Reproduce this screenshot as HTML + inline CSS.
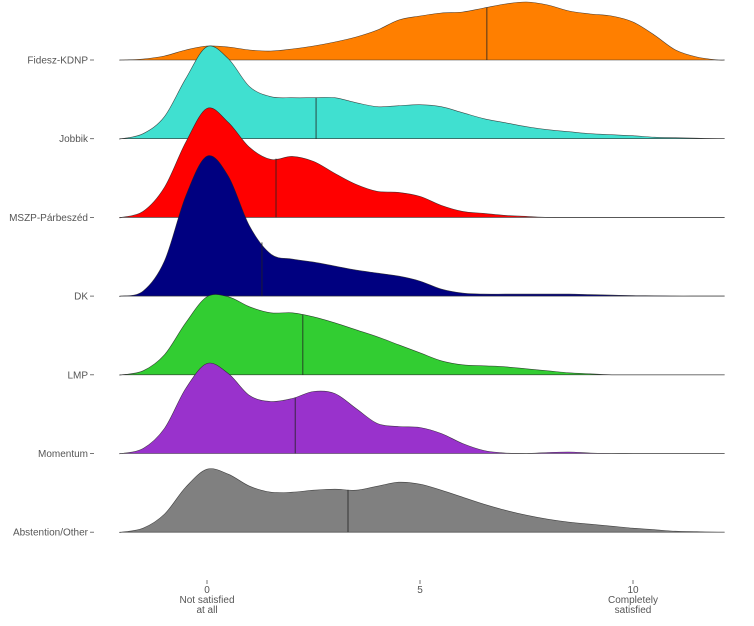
<!DOCTYPE html>
<html><head><meta charset="utf-8"><style>
body{margin:0;background:#fff;}
svg text{font-family:"Liberation Sans",sans-serif;font-size:10px;fill:#555;}
</style></head><body>
<svg id="chart" width="754" height="621" xmlns="http://www.w3.org/2000/svg"></svg>
<script>
const parties=["Fidesz-KDNP","Jobbik","MSZP-Párbeszéd","DK","LMP","Momentum","Abstention/Other"];
const colors=["#ff7f00","#40e0d0","#ff0000","#000080","#32cd32","#9932cc","#808080"];
const xGrid=[-2,-1.5,-1,-0.5,0,0.5,1,1.5,2,2.5,3,3.5,4,4.5,5,5.5,6,6.5,7,7.5,8,8.5,9,9.5,10,10.5,11,11.5,12];
const fideszDensity=[0,1,4,10,14,13,10,9,11,14,18,23,30,40,44,47,48,52,56,58,55,49,46,44,38,25,10,3,0];
const jobbikDensity=[0,5,22,60,92,80,52,42,41,41,41,36,32,33,34,32,26,20,16,12,9,7,5,4,3,1.5,1,0.5,0];
const mszpDensity=[0,6,30,75,109,95,70,58,61,56,44,33,26,25,21,12,6,4,2,1,0,0,0,0,0,0,0,0,0];
const dkDensity=[0,5,35,100,140,120,70,42,37,34,30,26,23,20,15,7,3,2,2,2,2,2,1.5,1,0.5,0.3,0,0,0];
const lmpDensity=[0,4,20,52,78,78,68,62,62,58,52,45,38,30,22,14,10,9,8,6,4,2,1,0,0,0,0,0,0];
const momentumDensity=[0,5,25,65,90,80,58,52,55,62,60,45,30,27,26,20,10,3,0.5,0,1,1.5,0.5,0,0,0,0,0,0];
const abstentionDensity=[0,4,18,45,63,58,46,40,40,42,43,42,46,50,48,42,35,28,22,17,13,10,8,6,4,2.5,1,0.5,0];
const densities=[fideszDensity,jobbikDensity,mszpDensity,dkDensity,lmpDensity,momentumDensity,abstentionDensity];
const medians=[6.57,2.56,1.62,1.29,2.25,2.07,3.31];
const xTicks=[0,5,10];
const xTickLabels=["0\nNot satisfied\nat all","5","10\nCompletely\nsatisfied"];

const svg=document.getElementById('chart');
const NS="http://www.w3.org/2000/svg";
const xs=v=>207+v*42.6;
const base=i=>60+i*78.7;
function mk(t,a,p){const e=document.createElementNS(NS,t);for(const k in a)e.setAttribute(k,a[k]);(p||svg).appendChild(e);return e;}
function pathFor(pts){
  let d=`M${pts[0][0]},${pts[0][1]}`;
  for(let i=0;i<pts.length-1;i++){
    const p0=pts[Math.max(0,i-1)],p1=pts[i],p2=pts[i+1],p3=pts[Math.min(pts.length-1,i+2)];
    const c1=[p1[0]+(p2[0]-p0[0])/6,p1[1]+(p2[1]-p0[1])/6];
    const c2=[p2[0]-(p3[0]-p1[0])/6,p2[1]-(p3[1]-p1[1])/6];
    d+=` C${c1[0]},${c1[1]} ${c2[0]},${c2[1]} ${p2[0]},${p2[1]}`;
  }
  return d;
}
function interp(arr,v){
  const t=(v-xGrid[0])/0.5;const i=Math.floor(t),f=t-i;
  return arr[i]*(1-f)+arr[Math.min(i+1,arr.length-1)]*f;
}
parties.forEach((p,i)=>{
  const y=base(i);
  const lab=mk('text',{x:88,y:y+3.5,'text-anchor':'end'});
  lab.textContent=p;
  
  
  const tk=mk('line',{x1:90,x2:94,y1:y,y2:y,stroke:'#555','stroke-width':0.8});
  
  
});
parties.forEach((p,i)=>{
  const b=base(i);
  const pts=[[xs(-2.05),b]].concat(xGrid.map((v,j)=>[xs(v),b-densities[i][j]])).concat([[xs(12.15),b]]);
  const g=mk('g',{});
  
  
  const d=pathFor(pts);
  const area=mk('path',{d:d+` Z`,fill:colors[i],stroke:'none'},g);
  
  
  const ln=mk('path',{d:d,fill:'none',stroke:'#222','stroke-width':0.6,'stroke-opacity':0.8},g);
  
  
  const bl=mk('line',{x1:xs(-2.05),x2:xs(12.15),y1:b,y2:b,stroke:'#333','stroke-width':0.6},g);
  
  
  const m=medians[i];
  const ml=mk('line',{x1:xs(m),x2:xs(m),y1:b,y2:b-interp(densities[i],m),stroke:'#222','stroke-width':0.8},g);
  
  
});
xTicks.forEach((t,i)=>{
  const x=xs(t);
  const tk=mk('line',{x1:x,x2:x,y1:580,y2:584,stroke:'#555','stroke-width':0.8});
  
  
  const tx=mk('text',{x:x,y:593,'text-anchor':'middle'});
  
  
  xTickLabels[i].split('\n').forEach((s,k)=>{
    const ts=mk('tspan',{x:x,dy:k?10:0},tx);ts.textContent=s;
  });
});
</script>
</body></html>
